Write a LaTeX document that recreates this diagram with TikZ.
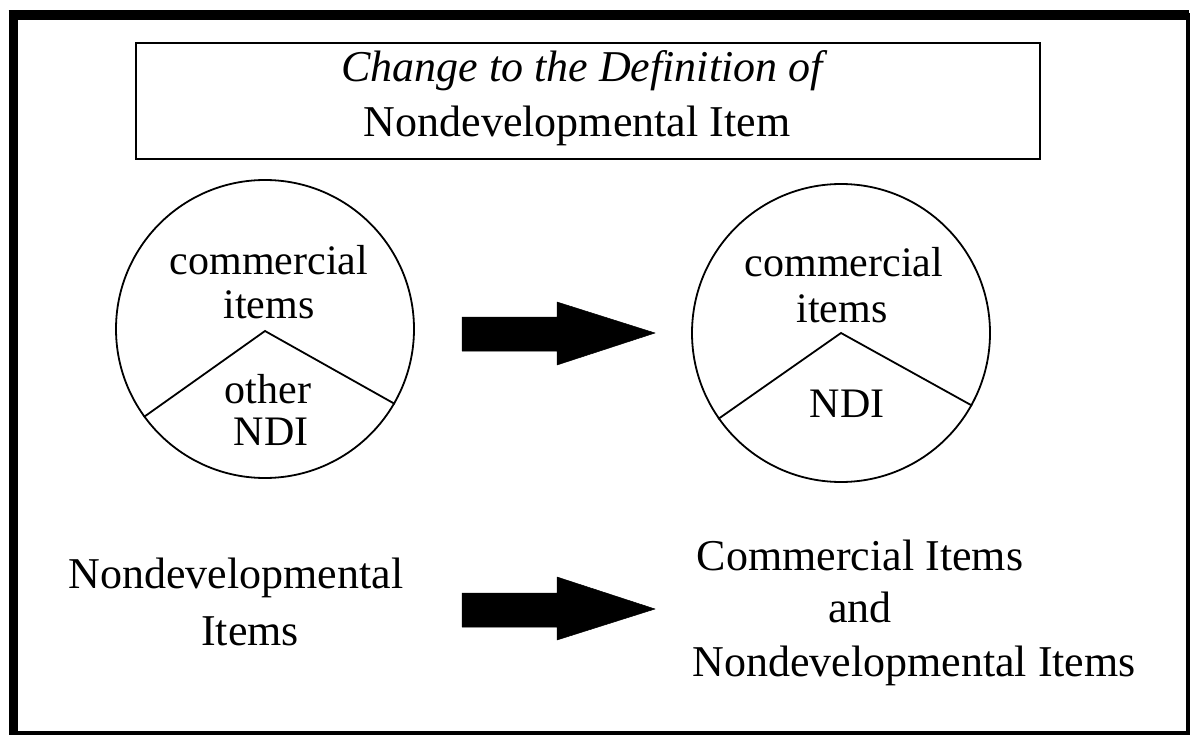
\documentclass[tikz,border=0pt]{standalone}
\usepackage{fontspec}
\setmainfont{Liberation Serif}
\begin{document}
\begin{tikzpicture}[x=1pt,y=-1pt,
  big/.style={font=\fontsize{44}{50}\selectfont, inner sep=0pt, anchor=base},
  small/.style={font=\fontsize{42}{48}\selectfont, inner sep=0pt, anchor=base},
  pie/.style={circle, draw, line width=1.8pt, inner sep=0pt},
  wedge/.style={line width=1.8pt},
  blockarrow/.style={fill=black, draw=black, line width=0.5pt, line join=round}]
\useasboundingbox (0,0) rectangle (1191,735);
% outer frame
\draw[line width=4pt] (13,15) -- (1187.5,15) -- (1187.5,732.5) -- (13,732.5) -- cycle;
\draw[line width=9pt] (13,10.5) -- (13,735);
\draw[line width=10pt] (8.5,15) -- (1189,15);
% title box
\node[draw, line width=1.8pt, minimum width=904, minimum height=116, inner sep=0pt] (title) at (588,101) {};
\node[big, font=\fontsize{44}{50}\selectfont\itshape] (t1) at (582,82) {Change to the Definition of};
\node[big] (t2) at (577,137) {Nondevelopmental Item};
% left pie
\node[pie, minimum size=298] (lc) at (265,329) {};
\draw[wedge] (lc.216.6) -- (265,331) -- (lc.-30);
\node[small] (lc1) at (269,275) {commercial};
\node[small] (lc2) at (269,319) {items};
\node[small] (lc3) at (268,403) {other};
\node[small] (lc4) at (271,445) {NDI};
% right pie
\node[pie, minimum size=298] (rc) at (841,333) {};
\draw[wedge] (rc.215.4) -- (841,333) -- (rc.-29.6);
\node[small] (rc1) at (844,277) {commercial};
\node[small] (rc2) at (842,322) {items};
\node[small] (rc3) at (847,417) {NDI};
% arrows
\fill[blockarrow] (462,317) -- (557,317) -- (557,302) -- (655,333) -- (557,365) -- (557,351) -- (462,351) -- cycle;
\fill[blockarrow] (462,593) -- (557,593) -- (557,577) -- (655,609) -- (557,640) -- (557,627) -- (462,627) -- cycle;
% bottom texts
\node[big] (bl1) at (236,588) {Nondevelopmental};
\node[big] (bl2) at (250,645) {Items};
\node[big] (br1) at (860,570) {Commercial Items};
\node[big] (br2) at (860,622) {and};
\node[big] (br3) at (914,676) {Nondevelopmental Items};
\end{tikzpicture}
\end{document}
